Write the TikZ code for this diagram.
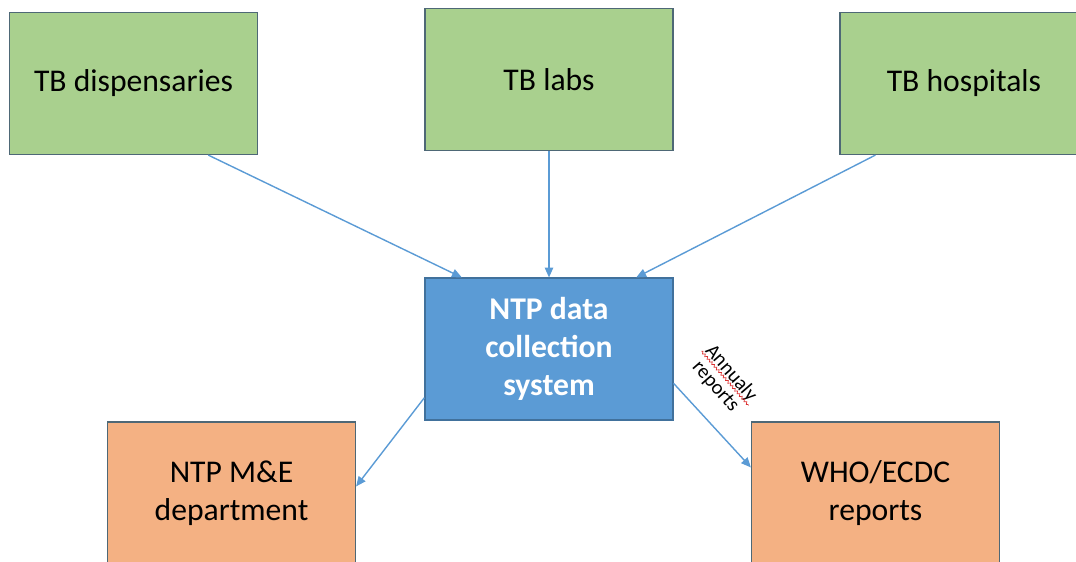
\documentclass[tikz,border=0pt]{standalone}
\usepackage{fontspec}
\setmainfont{Carlito}
\usetikzlibrary{arrows.meta,calc,decorations.pathmorphing}
\definecolor{srcgreen}{HTML}{A9D08E}
\definecolor{sysblue}{HTML}{5B9BD5}
\definecolor{sysline}{HTML}{41719C}
\definecolor{outorange}{HTML}{F4B183}
\definecolor{boxline}{RGB}{78,104,118}
\definecolor{flowline}{HTML}{5B9BD5}
\definecolor{spellred}{RGB}{220,50,50}
\begin{document}
\begin{tikzpicture}[x=0.025cm, y=0.025cm,
  box/.style={draw=boxline, line width=0.8pt, minimum width=6.2cm, minimum height=3.55cm,
    align=center, inner sep=0pt, font=\fontsize{22.5}{27}\selectfont},
  src/.style={box, fill=srcgreen},
  dst/.style={box, fill=outorange},
  sys/.style={box, draw=sysline, fill=sysblue, text=white, font=\fontsize{22.5}{27}\selectfont\bfseries},
  flow/.style={draw=flowline, line width=1pt, -{Triangle[length=7pt,width=6pt]}},
  lbl/.style={font=\fontsize{14.5}{16}\selectfont, rotate=-49, inner sep=1.3pt}]
\useasboundingbox (0,0) rectangle (1076,-561);
\clip (0,0) rectangle (1076,-561);

%sources
\node[src] (disp) at (133.5,-83.5) {TB dispensaries};
\node[src] (labs) at (549,-79.5) {TB labs};
\node[src] (hosp) at (964,-83.5) {TB hospitals};

%collection system
\node[sys] (ntp) at (549,-349) {NTP data\\collection\\system};

%outputs
\node[dst] (mne) at (231.5,-493) {NTP M\&E\\department};
\node[dst] (who) at (875.5,-493) {WHO/ECDC\\reports};

\draw[flow] ($(disp.south west)!0.8!(disp.south east)$) -- ($(ntp.north west)!0.15!(ntp.north east)$);
\draw[flow] (labs.south) -- (ntp.north);
\draw[flow] ($(hosp.south west)+(36,0)$) -- ($(ntp.north west)!0.85!(ntp.north east)$);
\draw[flow] ($(ntp.north west)!0.84!(ntp.south west)$) -- ($(mne.north east)+(0,-65)$);
\draw[flow] ($(ntp.north east)!0.74!(ntp.south east)$) -- ($(who.north west)+(0,-46)$);

%label
\node[lbl] (ann) at (731,-373) {Annualy};
\node[lbl, anchor=north] (rep) at (ann.south) {reports};
\draw[spellred, line width=0.5pt, decorate, decoration={snake, amplitude=0.8pt, segment length=2.5pt}]
  ($(ann.base west)!1.8pt!-90:(ann.base east)$) -- ($(ann.base east)!1.8pt!90:(ann.base west)$);
\end{tikzpicture}
\end{document}
